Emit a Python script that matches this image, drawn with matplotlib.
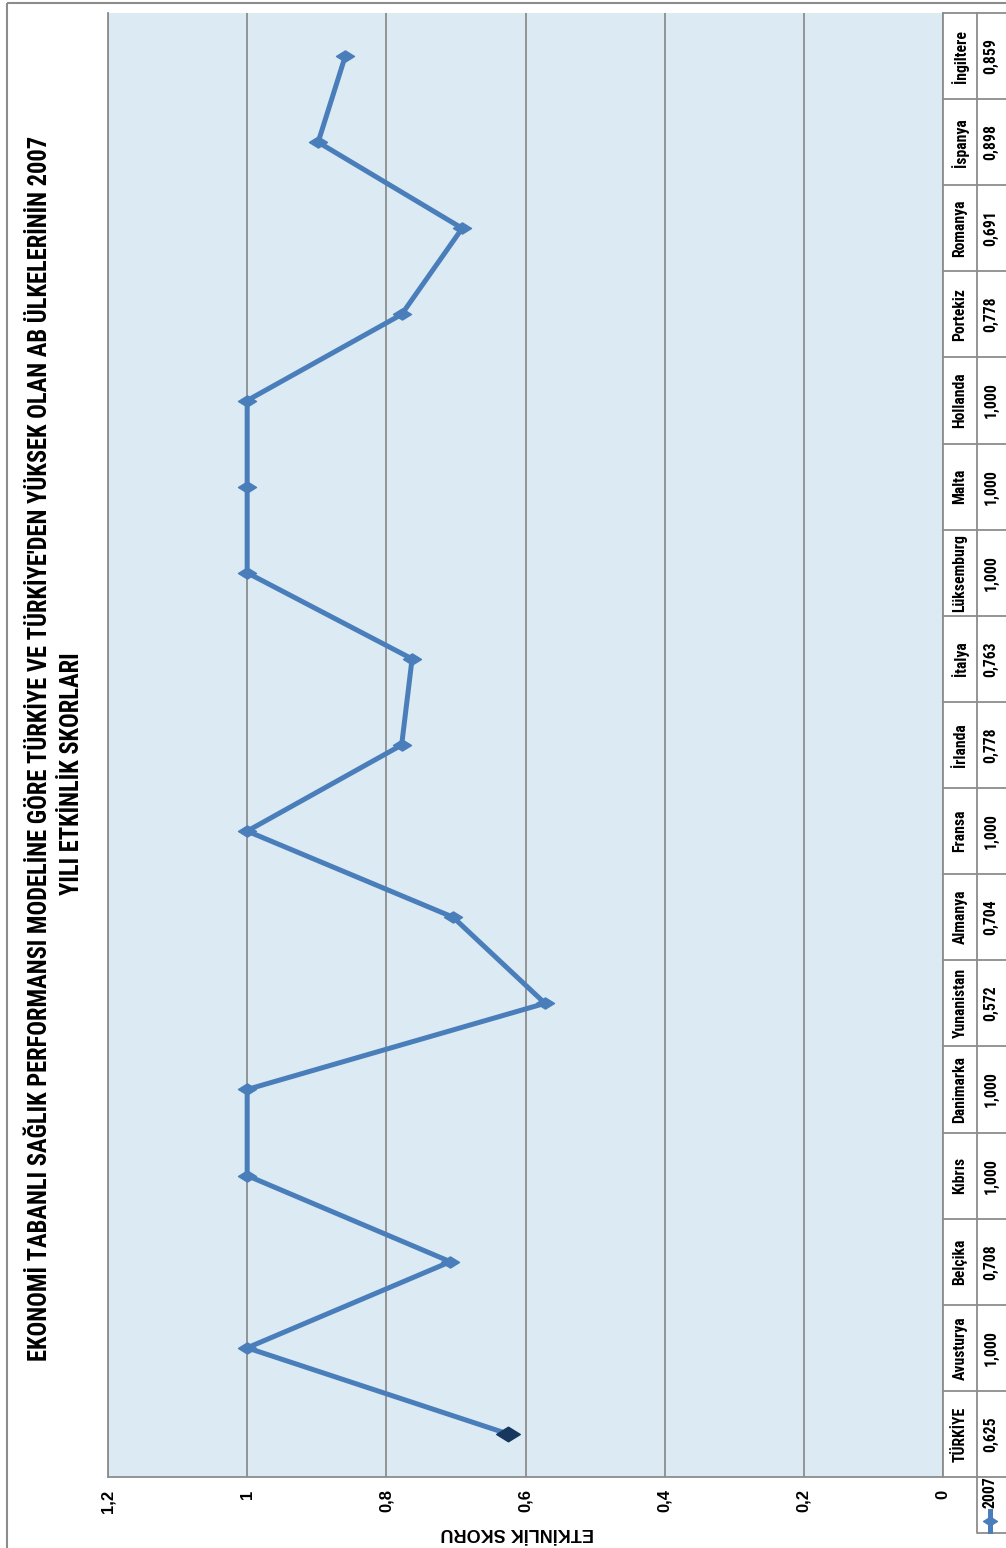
# -*- coding: utf-8 -*-
"""
2007 efficiency scores (economy based health performance model),
drawn in a rotated layout: categories run bottom-to-top, values right-to-left.
"""

import matplotlib
matplotlib.use('Agg')
import matplotlib.pyplot as plt
from matplotlib import font_manager
from matplotlib.path import Path

#---  data  ---
countries = ['TÜRKİYE', 'Avusturya', 'Belçika', 'Kıbrıs', 'Danimarka',
             'Yunanistan', 'Almanya', 'Fransa', 'İrlanda', 'İtalya',
             'Lüksemburg', 'Malta', 'Hollanda', 'Portekiz', 'Romanya',
             'İspanya', 'İngiltere']
scores = [0.625, 1.000, 0.708, 1.000, 1.000, 0.572, 0.704, 1.000, 0.778,
          0.763, 1.000, 1.000, 1.000, 0.778, 0.691, 0.898, 0.859]
series_name = '2007'
ticks = [0, 0.2, 0.4, 0.6, 0.8, 1.0, 1.2]
tick_labels = ['0', '0,2', '0,4', '0,6', '0,8', '1', '1,2']

title1 = ("EKONOMİ TABANLI SAĞLIK PERFORMANSI MODELİNE GÖRE TÜRKİYE VE "
          "TÜRKİYE'DEN YÜKSEK OLAN AB ÜLKELERİNİN 2007")
title2 = "YILI ETKİNLİK SKORLARI"
ylabel = "ETKİNLİK SKORU"

#---  fonts: a narrow face if one is installed  ---
installed = {f.name for f in font_manager.fontManager.ttflist}
narrow = 'Liberation Sans'
for cand in ['Liberation Sans Narrow', 'Arial Narrow', 'Roboto Condensed',
             'DejaVu Sans Condensed', 'Open Sans Condensed']:
    if cand in installed:
        narrow = cand
        break
narrow = [narrow, 'DejaVu Sans']
regular = ['Liberation Sans', 'DejaVu Sans']

line_col = '#4A7EBB'
first_col = '#17375E'
grid_col = '#8C8C8C'
bg_col = '#DBEAF3'

# flattened diamond marker
diamond = Path([(-1, 0), (0, 0.62), (1, 0), (0, -0.62), (-1, 0)],
               [Path.MOVETO, Path.LINETO, Path.LINETO, Path.LINETO,
                Path.CLOSEPOLY])

W, H = 1006, 1548
fig = plt.figure(figsize=(W / 100, H / 100), dpi=100)

def box(x0, y0, x1, y1):
    return [x0 / W, 1 - y1 / H, (x1 - x0) / W, (y1 - y0) / H]

def shrink(texts, ref, length):
    # scale a group of rotated texts so that `ref` spans `length` pixels
    r = fig.canvas.get_renderer()
    f = length / ref.get_window_extent(r).height
    for t in texts:
        t.set_fontsize(t.get_fontsize() * f)

#---  overlay in pixel units for borders, titles, legend  ---
ov = fig.add_axes([0, 0, 1, 1], zorder=0)
ov.set_xlim(0, W)
ov.set_ylim(H, 0)
ov.axis('off')
ov.add_patch(plt.Rectangle((7, 3), W + 10, H + 10, fill=False,
                           ec='#8C8C8C', lw=1.5))

t1 = ov.text(40, 748, title1, rotation=90, ha='center', va='center',
             fontsize=16.5, fontweight='bold', family=narrow)
t2 = ov.text(72, 774, title2, rotation=90, ha='center', va='center',
             fontsize=16.5, fontweight='bold', family=narrow)
ov.text(517, 1532, ylabel, rotation=180, ha='center', va='center',
        fontsize=13, fontweight='bold', family=regular)

#---  main plot  ---
ax = fig.add_axes(box(108, 13, 943, 1477), zorder=2)
ax.set_facecolor(bg_col)
ax.set_xlim(1.2, 0)
ax.set_ylim(-0.5, len(countries) - 0.5)
ax.set_xticks(ticks)
ax.set_xticklabels(tick_labels, rotation=90, fontsize=12,
                   fontweight='bold', family=regular)
ax.set_yticks([])
ax.tick_params(axis='x', length=0, pad=9)
ax.grid(axis='x', color=grid_col, lw=1.3)
ax.set_axisbelow(True)
for s in ['left', 'bottom', 'right']:
    ax.spines[s].set_color(grid_col)
    ax.spines[s].set_linewidth(1.3)
ax.spines['top'].set_visible(False)

ypos = list(range(len(countries)))
ax.plot(scores, ypos, color=line_col, lw=3.6, marker=diamond, ms=13,
        mfc=line_col, mec=line_col, solid_joinstyle='miter', zorder=3)
ax.plot(scores[0], ypos[0], ls='none', marker=diamond, ms=17,
        mfc=first_col, mec=first_col, zorder=4)

#---  data table on the right  ---
tb = fig.add_axes(box(943, 13, W, 1477), sharey=ax, zorder=2)
tb.set_xlim(0, W - 943)
tb.axis('off')
for i in range(-1, len(countries)):
    tb.plot([0, W - 943], [i + 0.5, i + 0.5], color=grid_col, lw=1.3,
            clip_on=False)
tb.plot([34, 34], [-0.5, len(countries) - 0.5], color=grid_col, lw=1.3,
        clip_on=False)
name_txt, val_txt = [], []
for i, (c, v) in enumerate(zip(countries, scores)):
    name_txt.append(tb.text(17, i, c, rotation=90, ha='center',
                            va='center', fontsize=11.5, fontweight='bold',
                            family=narrow))
    val_txt.append(tb.text(48, i, f'{v:.3f}'.replace('.', ','), rotation=90,
                           ha='center', va='center', fontsize=11.5,
                           fontweight='bold', family=narrow))

#---  legend cell under the table  ---
ov.plot([977, 977, W + 5], [1477, 1533, 1533], color=grid_col, lw=1.3)
ov.plot([990, 990], [1511, 1531], color=line_col, lw=3.6)
ov.plot([990], [1521], ls='none', marker=diamond, ms=10, mfc=line_col,
        mec=line_col)
t_leg = ov.text(990, 1492, series_name, rotation=90, ha='center',
                va='center', fontsize=11.5, fontweight='bold', family=narrow)

fig.canvas.draw()
shrink([t1, t2], t1, 1225)
shrink(name_txt + val_txt + [t_leg], name_txt[10], 78)

plt.savefig('out.png', dpi=100)
